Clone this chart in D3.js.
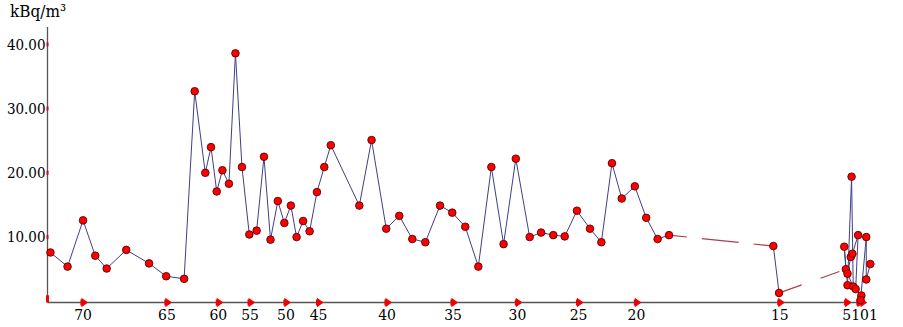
<!DOCTYPE html>
<html><head><meta charset="utf-8">
<script src="https://cdn.jsdelivr.net/npm/d3@7"></script>
<style>body{margin:0;background:#fff}svg{display:block}</style>
</head><body>
<svg id="c" width="903" height="327"></svg>
<script>
// Sample position along transect (arbitrary distance units) and activity (kBq/m³)
const positions = [3,24,43,58,72,96,124,145,167,180,193,200,207,214,222,230,238,247,256,265,273,282,290,298,305,313,321,330,339,347,382,397,415,431,447,463,481,496,512,528,544,559,574,591,605,620,634,649,665,679,692,704,720,734,748,762,890,897,
  979,977,981,986,988,981,985,987,994,991,998,997,1004,1004,1009];
const activity = [7.6,5.4,12.6,7.1,5.1,8.0,5.9,3.9,3.5,32.7,20.0,24.0,17.1,20.4,18.3,38.6,20.9,10.4,11.0,22.5,9.6,15.6,12.2,14.9,10.0,12.5,10.9,17.0,20.9,24.3,14.9,25.1,11.3,13.3,9.7,9.2,14.9,13.8,11.6,5.4,20.9,8.9,22.2,10.0,10.7,10.3,10.1,14.1,11.3,9.2,21.5,16.0,17.9,13.0,9.7,10.3,8.6,1.3,
  5.0,8.5,2.5,19.4,2.3,4.3,6.9,7.4,10.3,1.9,0.9,0.2,10.0,3.4,5.8];
// segments starting at these indices are gaps (no samples), drawn dashed
const gapStarts = [55, 57];
const tickPositions = [43,146,209,248,292,332,416,497,576,651,722,898,980,995,999];
const tickLabels = ["70","65","60","55","50","45","40","35","30","25","20","15","5","10","1"];
const yTickValues = [10,20,30,40];
const yMarkerValues = [0,10,20,30,40];
const yUnit = "kBq/m³";

const svg = d3.select("#c");
const FONT = "DejaVu Serif Condensed, DejaVu Serif";
const x = d3.scaleLinear().domain([0,1000]).range([48,863]);
const y = d3.scaleLinear().domain([0,42.7]).range([301.3,27]);
const axisY = 302.5, axisX = 47.5;

// axes lines
svg.append("line").attr("x1",axisX).attr("x2",axisX).attr("y1",y.range()[1]).attr("y2",axisY)
  .attr("stroke","#555").attr("stroke-width",1.3);
svg.append("line").attr("x1",axisX).attr("x2",x(1000)).attr("y1",axisY).attr("y2",axisY)
  .attr("stroke","#555").attr("stroke-width",1.3);

// y labels
svg.append("g").selectAll("text").data(yTickValues).join("text")
  .attr("x",45.5).attr("y",d=>y(d)).attr("dy","0.36em").attr("text-anchor","end")
  .attr("font-family",FONT).attr("font-size",15).attr("fill","#000")
  .text(d=>d3.format(".2f")(d));
svg.append("g").selectAll("rect").data(yMarkerValues).join("rect")
  .attr("x",d=>d===0?46:46.5).attr("y",d=>d===0?y(d)-6:y(d)-2)
  .attr("width",d=>d===0?3:2).attr("height",d=>d===0?7:4).attr("fill","#e00");

svg.append("text").attr("x",10).attr("y",17).attr("font-family",FONT).attr("font-size",17)
  .attr("fill","#000").text(yUnit);

// x tick flags
svg.append("g").selectAll("path").data(tickPositions).join("path")
  .attr("d",d=>{const px=x(d);return `M${px-2},${axisY-3}L${px-2},${axisY+3}M${px-1},${axisY-3.5}L${px+4},${axisY}L${px-1},${axisY+3.5}Z`;})
  .attr("fill","#e00").attr("stroke","#e00").attr("stroke-width",1.2);

// x labels with overlap avoidance
const lblG = svg.append("g");
let prevRight = -Infinity;
tickPositions.forEach((p,i)=>{
  const t = lblG.append("text").attr("y",320).attr("font-family",FONT).attr("font-size",15.5)
    .attr("fill","#000").attr("text-anchor","start").text(tickLabels[i]);
  const w = t.node().getComputedTextLength();
  let left = x(p) - w/2;
  if (left < prevRight) left = prevRight;
  t.attr("x",left);
  prevRight = left + w;
});

// line segments
const segs = d3.range(positions.length-1).map(i=>({i, a:[positions[i],activity[i]], b:[positions[i+1],activity[i+1]], gap:gapStarts.includes(i)}));
svg.append("g").selectAll("line").data(segs).join("line")
  .attr("x1",d=>x(d.a[0])).attr("y1",d=>y(d.a[1]))
  .attr("x2",d=>x(d.b[0])).attr("y2",d=>y(d.b[1]))
  .attr("stroke",d=>d.gap?"#a8404c":"#3f3f86")
  .attr("stroke-width",d=>d.gap?1.2:1)
  .attr("stroke-dasharray",d=>d.gap?(d.i===55?"37,15":"20,20"):null)
  .attr("stroke-dashoffset",d=>d.gap?(d.i===55?19:-4):null);

// points
svg.append("g").selectAll("circle").data(positions.map((p,i)=>[p,activity[i]])).join("circle")
  .attr("cx",d=>x(d[0])).attr("cy",d=>y(d[1])).attr("r",3.8)
  .attr("fill","#f00").attr("stroke","#5a0000").attr("stroke-width",0.9);
</script>
</body></html>
